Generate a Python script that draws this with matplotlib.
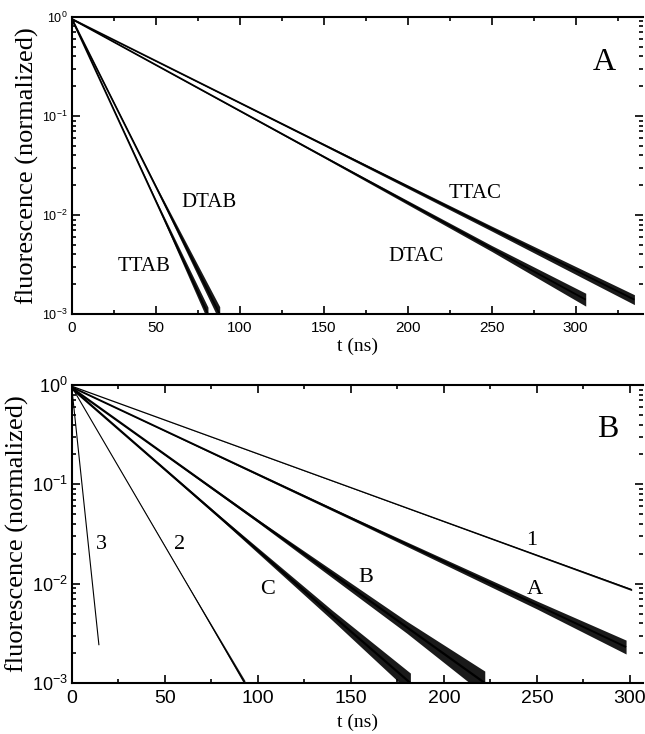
import matplotlib
matplotlib.use('Agg')
import math
import numpy as np
import matplotlib.pyplot as plt
from matplotlib.ticker import LogLocator, MultipleLocator, FuncFormatter, NullFormatter

# Panel A: decay traces (t in ns, normalized fluorescence)
# *_n = half-width of the noise band in decades
ttac_t = [0, 150, 250, 335]
ttac_y = [0.95, 0.0513, 0.0073, 0.0014]
ttac_n = [0, 0.01, 0.025, 0.05]
dtac_t = [0, 150, 250, 306]
dtac_y = [0.95, 0.0388, 0.0046, 0.0014]
dtac_n = [0, 0.01, 0.03, 0.065]
ttab_t = [0, 50, 81]
ttab_y = [0.95, 0.0138, 0.001]
ttab_n = [0, 0.015, 0.07]
dtab_t = [0, 50, 88]
dtab_y = [0.95, 0.0193, 0.001]
dtab_n = [0, 0.015, 0.075]

# Panel B
c1_t = [0, 150, 301]
c1_y = [0.97, 0.0927, 0.0087]
c1_n = [0, 0.003, 0.01]
cA_t = [0, 150, 250, 298]
cA_y = [0.95, 0.0458, 0.0061, 0.0023]
cA_n = [0, 0.015, 0.04, 0.07]
cB_t = [0, 100, 180, 222]
cB_y = [0.93, 0.0428, 0.00365, 0.001]
cB_n = [0, 0.015, 0.06, 0.12]
cC_t = [0, 80, 140, 182]
cC_y = [0.92, 0.0458, 0.0048, 0.001]
cC_n = [0, 0.015, 0.05, 0.10]
c2_t = [0, 60, 93]
c2_y = [0.95, 0.0114, 0.001]
c2_n = [0, 0.004, 0.025]
c3_t = [0, 14.5]
c3_y = [0.9, 0.0024]

serif = 'Liberation Serif'
sans = 'Liberation Sans'


def ylab(v, pos):
    e = int(round(math.log10(v)))
    return r'$\mathregular{10^{%d}}$' % e


def trace(ax, t, y, noise=None, lw=1.2):
    ax.plot(t, y, color='black', lw=lw, solid_capstyle='butt')
    if noise is not None:
        y = np.array(y)
        f = 10 ** np.array(noise)
        ax.fill_between(t, y / f, y * f, color='#1a1a1a', lw=0)


def style_axes(ax, xmax, xfs, yfs):
    ax.set_yscale('log')
    ax.set_ylim(1e-3, 1)
    ax.set_xlim(0, xmax)
    ax.xaxis.set_major_locator(MultipleLocator(50))
    ax.xaxis.set_minor_locator(MultipleLocator(25))
    ax.yaxis.set_major_locator(LogLocator(base=10, numticks=10))
    ax.yaxis.set_minor_locator(LogLocator(base=10, subs=range(2, 10), numticks=10))
    ax.yaxis.set_major_formatter(FuncFormatter(ylab))
    ax.yaxis.set_minor_formatter(NullFormatter())
    ax.tick_params(which='both', direction='in', top=True, right=True, width=1.2)
    ax.tick_params(which='major', length=6)
    ax.tick_params(which='minor', length=3)
    ax.tick_params(axis='x', labelsize=xfs, pad=5)
    ax.tick_params(axis='y', labelsize=yfs, pad=3)
    for lbl in ax.get_xticklabels() + ax.get_yticklabels():
        lbl.set_family(sans)
    for s in ['left', 'bottom', 'top']:
        ax.spines[s].set_linewidth(1.5)
    ax.spines['right'].set_visible(False)


fig = plt.figure(figsize=(6.45, 7.34), dpi=100)
axA = fig.add_axes([0.1116, 0.572, 0.885, 0.405])
axB = fig.add_axes([0.1116, 0.0695, 0.885, 0.406])

# Panel A
trace(axA, ttac_t, ttac_y, ttac_n, lw=1.3)
trace(axA, dtac_t, dtac_y, dtac_n, lw=1.3)
trace(axA, ttab_t, ttab_y, ttab_n, lw=1.3)
trace(axA, dtab_t, dtab_y, dtab_n, lw=1.3)
style_axes(axA, 340, 11, 9)
axA.set_xlabel('t (ns)', family=serif, fontsize=14, labelpad=2)
axA.set_ylabel('fluorescence (normalized)', family=serif, fontsize=19, labelpad=2)
axA.text(240, 0.0166, 'TTAC', family=serif, fontsize=15, ha='center', va='center')
axA.text(205, 0.0038, 'DTAC', family=serif, fontsize=15, ha='center', va='center')
axA.text(81.5, 0.0135, 'DTAB', family=serif, fontsize=15, ha='center', va='center')
axA.text(43, 0.003, 'TTAB', family=serif, fontsize=15, ha='center', va='center')
axA.text(0.933, 0.848, 'A', transform=axA.transAxes, family=serif, fontsize=23,
         ha='center', va='center')

# Panel B
trace(axB, c1_t, c1_y, c1_n, lw=0.9)
trace(axB, cA_t, cA_y, cA_n, lw=1.4)
trace(axB, cB_t, cB_y, cB_n, lw=1.6)
trace(axB, cC_t, cC_y, cC_n, lw=1.6)
trace(axB, c2_t, c2_y, c2_n, lw=0.8)
trace(axB, c3_t, c3_y, lw=0.8)
style_axes(axB, 307, 14, 13)
axB.set_xlabel('t (ns)', family=serif, fontsize=14, labelpad=5)
axB.set_ylabel('fluorescence (normalized)', family=serif, fontsize=19, labelpad=2)
axB.text(247, 0.0275, '1', family=serif, fontsize=16, ha='center', va='center')
axB.text(249, 0.0087, 'A', family=serif, fontsize=16, ha='center', va='center')
axB.text(158, 0.0114, 'B', family=serif, fontsize=16, ha='center', va='center')
axB.text(105, 0.0087, 'C', family=serif, fontsize=16, ha='center', va='center')
axB.text(57.6, 0.0245, '2', family=serif, fontsize=16, ha='center', va='center')
axB.text(16, 0.0245, '3', family=serif, fontsize=16, ha='center', va='center')
axB.text(0.939, 0.849, 'B', transform=axB.transAxes, family=serif, fontsize=23,
         ha='center', va='center')

fig.savefig('out.png', dpi=100)
